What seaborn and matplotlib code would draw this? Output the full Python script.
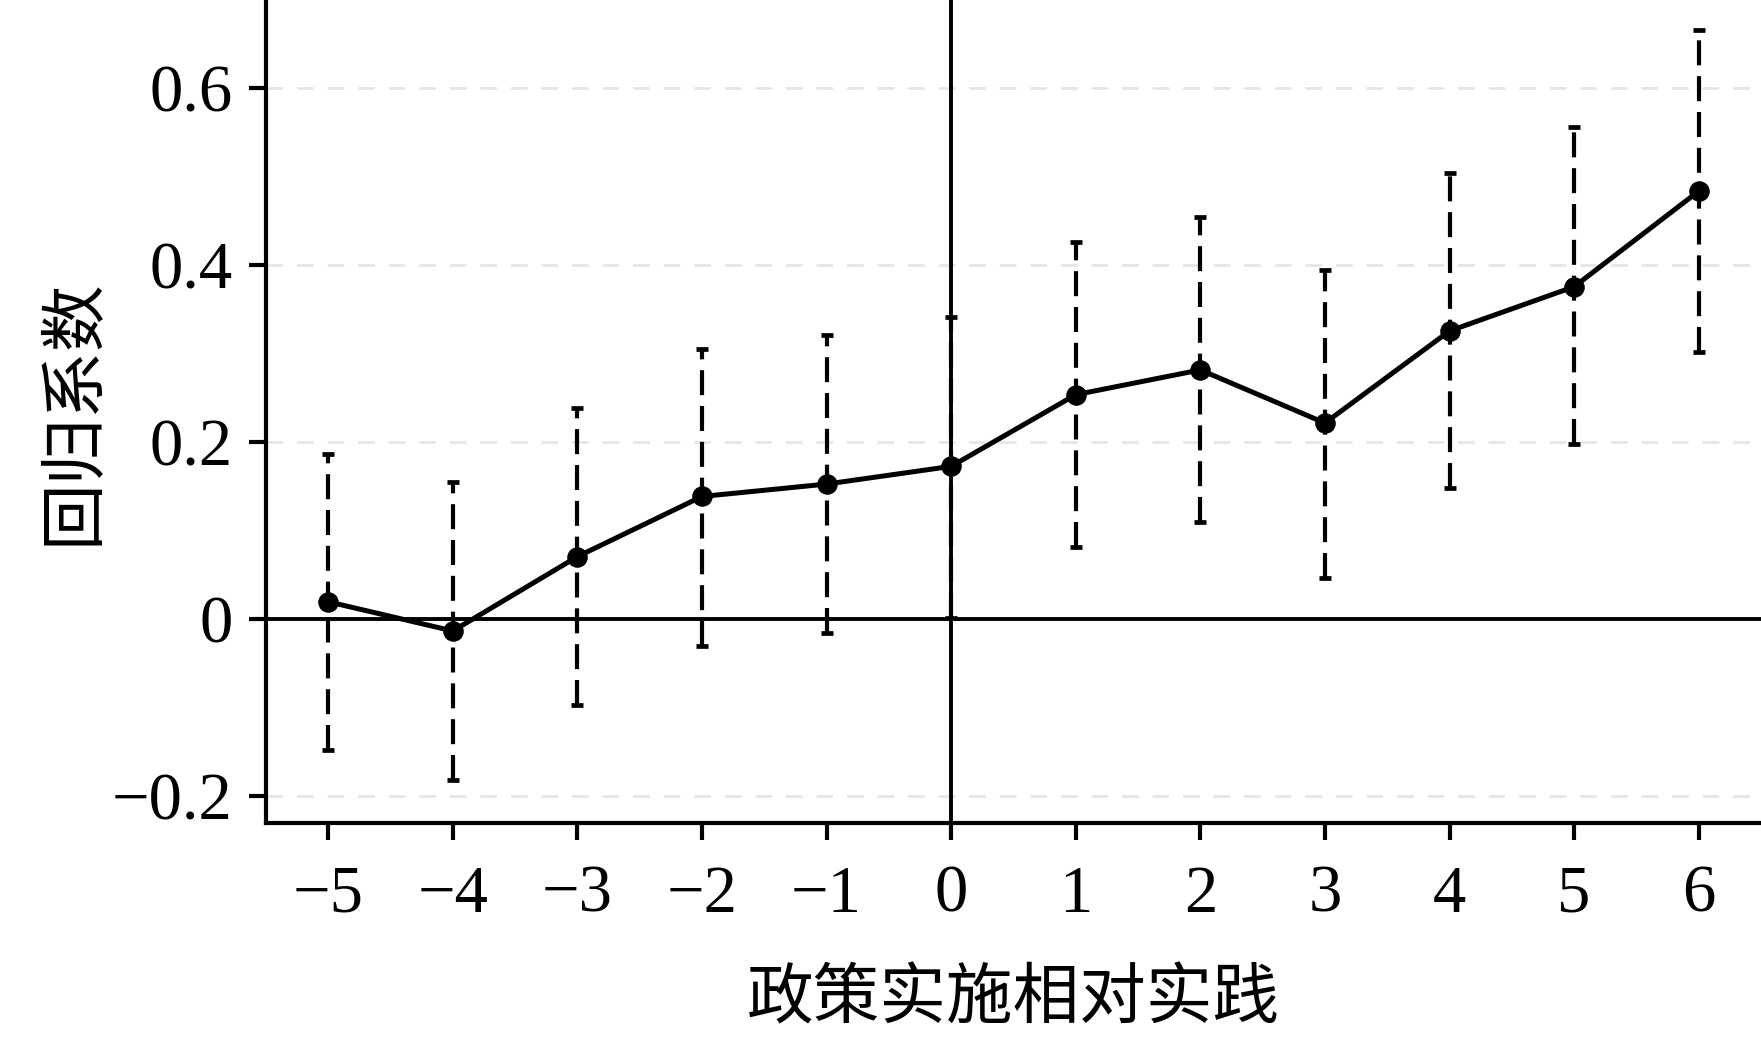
import numpy as np
import pandas as pd
import seaborn as sns
import matplotlib
matplotlib.use("Agg")
import matplotlib.pyplot as plt

# event-study coefficients
periods = [-5, -4, -3, -2, -1, 0, 1, 2, 3, 4, 5, 6]
coef = [0.020, -0.013, 0.071, 0.139, 0.153, 0.173, 0.254, 0.282, 0.222, 0.326, 0.376, 0.484]
ci_upper = [0.187, 0.155, 0.239, 0.306, 0.321, 0.342, 0.426, 0.455, 0.395, 0.504, 0.556, 0.666]
ci_lower = [-0.148, -0.181, -0.097, -0.030, -0.015, 0.002, 0.082, 0.110, 0.047, 0.149, 0.198, 0.302]
y_ticks = [-0.2, 0, 0.2, 0.4, 0.6]
y_tick_labels = ["\u22120.2", "0", "0.2", "0.4", "0.6"]
x_tick_labels = [("\u2212" + str(-p)) if p < 0 else str(p) for p in periods]

df = pd.DataFrame({"period": periods, "coef": coef, "lo": ci_lower, "hi": ci_upper})

sns.set_style("white")
plt.rcParams["font.family"] = ["Liberation Serif", "Noto Sans CJK SC"]
plt.rcParams["text.color"] = "black"
plt.rcParams["axes.labelcolor"] = "black"
plt.rcParams["xtick.color"] = "black"
plt.rcParams["ytick.color"] = "black"

fig = plt.figure(figsize=(17.61, 10.64), dpi=100)
ax = fig.add_axes([0.151, 0.2265, 0.849, 0.7735])

# grid lines (light dashed)
for yt in y_ticks:
    if yt != 0:
        ax.axhline(yt, color="#e6e6e6", lw=2, ls=(0, (6, 5)), zorder=0)

ax.axhline(0, color="black", lw=2.8, zorder=1)
ax.axvline(0, color="black", lw=2.8, zorder=1)

# confidence intervals
eb = ax.errorbar(df["period"], df["coef"],
                 yerr=[df["coef"] - df["lo"], df["hi"] - df["coef"]],
                 fmt="none", ecolor="black", elinewidth=3.0, capsize=4.5, capthick=3.4, zorder=2)
eb[2][0].set_linestyle((0, (6, 2.6)))

sns.lineplot(data=df, x="period", y="coef", color="black", lw=3.6,
             marker="o", markersize=14, markeredgecolor="black", ax=ax, zorder=3)

ax.set_xlim(-5.5, 6.5)
ax.set_ylim(-0.23, 0.7)
ax.set_xticks(periods)
ax.set_xticklabels(x_tick_labels)
ax.set_yticks(y_ticks)
ax.set_yticklabels(y_tick_labels)

for s in ["top", "right"]:
    ax.spines[s].set_visible(False)
for s in ["left", "bottom"]:
    ax.spines[s].set_linewidth(3.0)
    ax.spines[s].set_color("black")

ax.tick_params(axis="both", direction="out", length=12, width=3.0, labelsize=48,
               color="black", labelcolor="black", left=True, bottom=True)
ax.tick_params(axis="x", pad=18)
ax.tick_params(axis="y", pad=12)

ax.set_xlabel("政策实施相对实践", fontsize=48, labelpad=32, color="black")
ax.set_ylabel("回归系数", fontsize=48, labelpad=4, color="black")

fig.savefig("out.png", dpi=100)
